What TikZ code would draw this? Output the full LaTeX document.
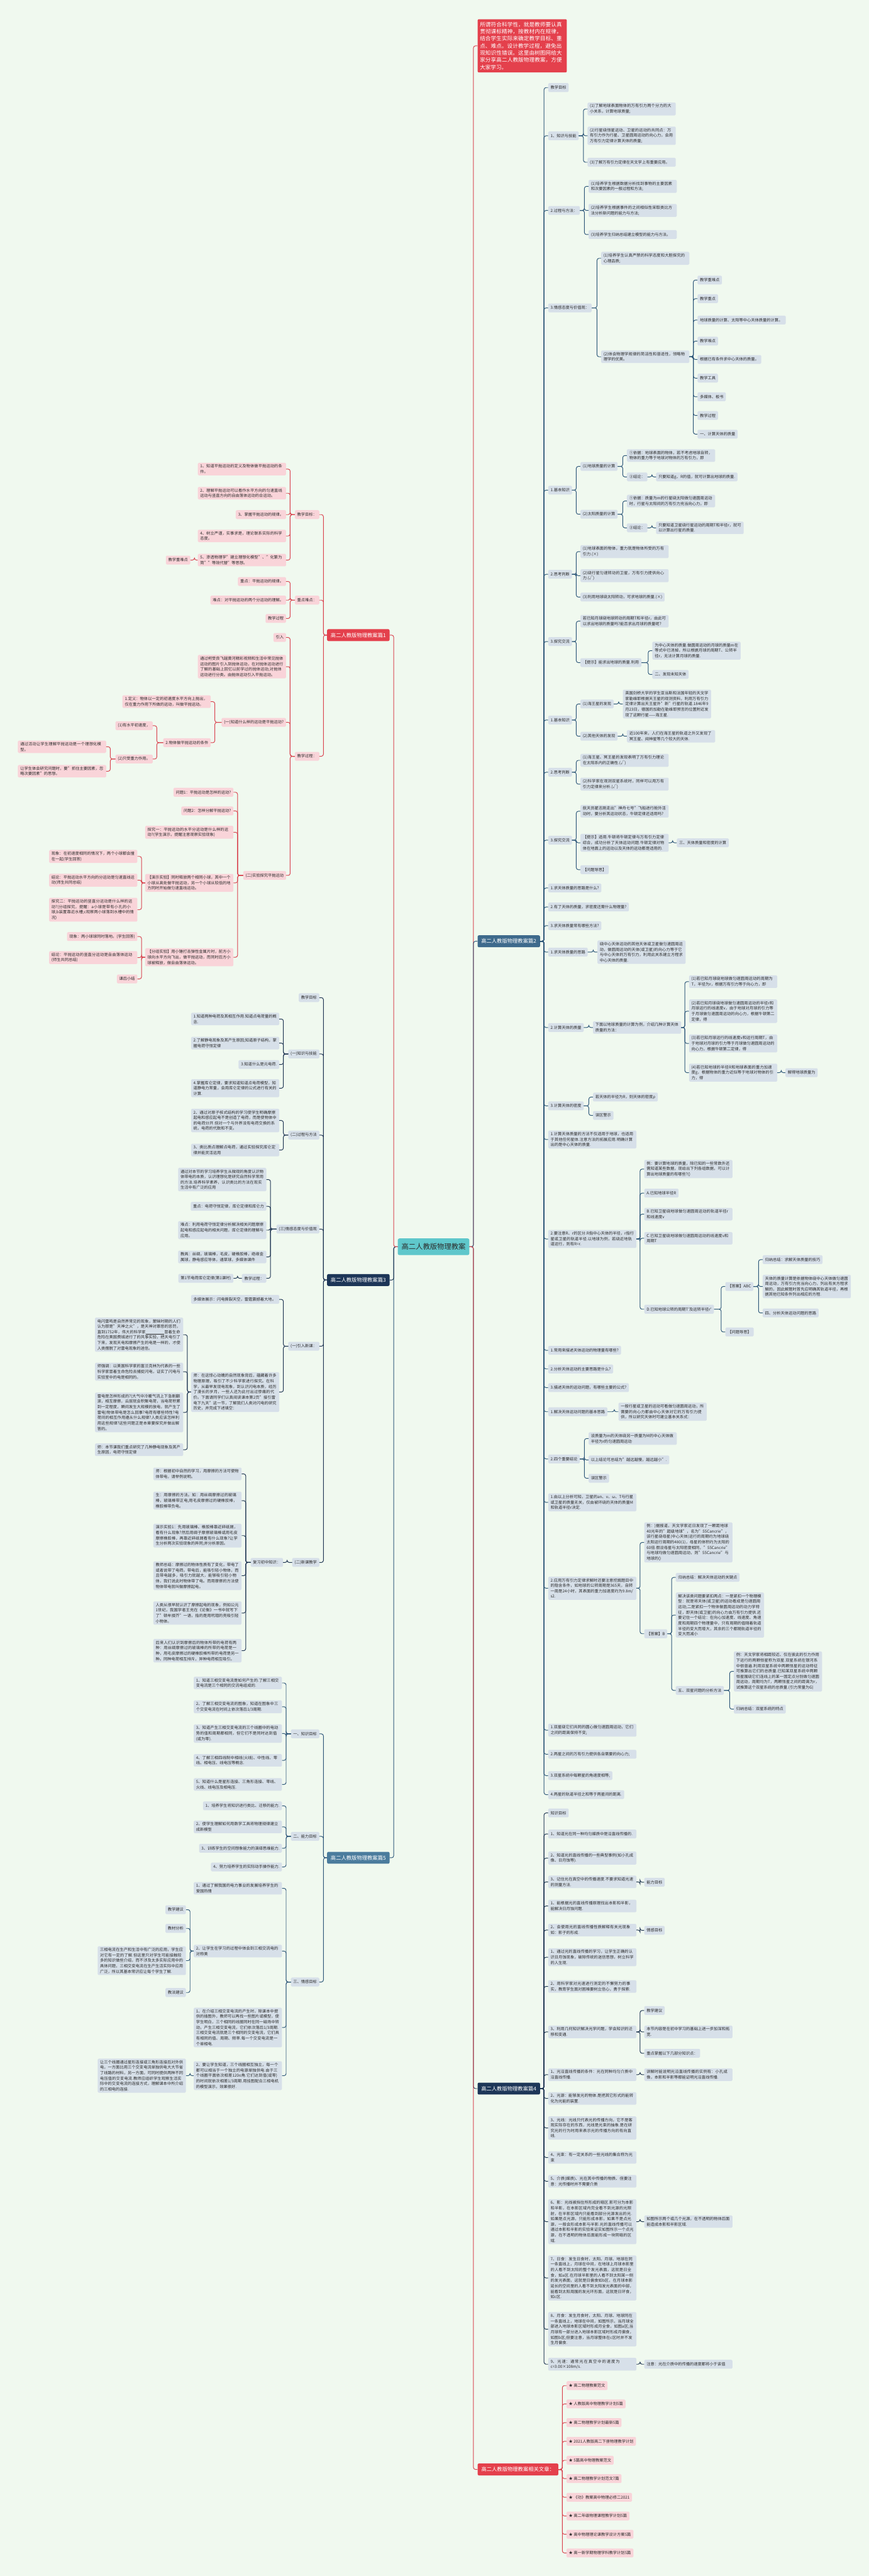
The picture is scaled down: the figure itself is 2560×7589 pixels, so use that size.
\documentclass[tikz,border=0pt]{standalone}
\usepackage{fontspec}
\setmainfont{Noto Sans CJK SC}
\XeTeXlinebreaklocale "zh"
\XeTeXlinebreakskip = 0pt plus 1pt
\definecolor{bgc}{HTML}{F0F9EF}
\definecolor{redfill}{HTML}{E4404C}
\definecolor{redline}{HTML}{D9434F}
\definecolor{pinkbox}{HTML}{F9D4D9}
\definecolor{bluebox}{HTML}{D7E0E9}
\definecolor{navy}{HTML}{1D3658}
\definecolor{navyline}{HTML}{1F3553}
\definecolor{steelA}{HTML}{3E6A8C}
\definecolor{steelB}{HTML}{4B7C9D}
\definecolor{steelline}{HTML}{2E5779}
\definecolor{tealc}{HTML}{5FC7CB}
\definecolor{txt}{HTML}{2B2B2B}
\tikzset{
  bx/.style={rounded corners=3pt, inner xsep=7pt, inner ysep=5pt, minimum height=26pt,
    font=\fontsize{11.6pt}{16pt}\selectfont, align=left, text=txt},
  bb/.style={bx, fill=bluebox},
  pb/.style={bx, fill=pinkbox},
  atR/.style={anchor=west},
  atL/.style={anchor=east},
  tw/.style={text width=#1pt},
  lone/.style={rounded corners=4pt, inner xsep=7pt, inner ysep=5pt, minimum height=35pt,
    minimum width=184pt, font=\fontsize{15.4pt}{18pt}\selectfont, text=white},
  lkred/.style={draw=redline, line width=1.8pt, rounded corners=6pt},
  lkst/.style={draw=steelline, line width=1.8pt, rounded corners=6pt},
  lknv/.style={draw=navyline, line width=1.8pt, rounded corners=6pt},
}
\newcommand{\kidsR}[3]{\foreach \k in {#3}{\draw[#1] (#2.east) -| ([xshift=-12pt]\k.west) -- (\k.west);}}
\newcommand{\kidsL}[3]{\foreach \k in {#3}{\draw[#1] (#2.west) -| ([xshift=12pt]\k.east) -- (\k.east);}}
\begin{document}
\begin{tikzpicture}[x=1pt,y=-1pt]
\fill[bgc] (0,0) rectangle (2560,7589);
\useasboundingbox (0,0) rectangle (2560,7589);

% ---------- centre ----------
\node[fill=tealc, rounded corners=5pt, minimum width=211pt, minimum height=49pt,
  font=\fontsize{21pt}{24pt}\selectfont, text=txt] (C) at (1277.5,3673) {高二人教版物理教案};

% ---------- level 1 ----------
\node[lone, fill=redfill, atR, text width=249pt, align=left, inner ysep=8pt,
  font=\fontsize{15.9pt}{21pt}\selectfont] (T) at (1407,135) {所谓符合科学性，就是教师要认真贯彻课标精神，按教材内在规律，结合学生实际来确定教学目标、重点、难点。设计教学过程，避免出现知识性错误。这里由树图网给大家分享高二人教版物理教案，方便大家学习。};
\node[lone, fill=steelA, atR] (P2) at (1407,2773) {高二人教版物理教案篇2};
\node[lone, fill=navy, atR] (P4) at (1407,6153) {高二人教版物理教案篇4};
\node[lone, fill=redfill, atR, minimum width=238pt] (R0) at (1407,7275) {高二人教版物理教案相关文章：};
\node[lone, fill=redfill, atL] (P1) at (1148,1871) {高二人教版物理教案篇1};
\node[lone, fill=navy, atL] (P3) at (1148,3771) {高二人教版物理教案篇3};
\node[lone, fill=steelB, atL] (P5) at (1148,5473) {高二人教版物理教案篇5};

% ---------- 篇2 ----------
\node[bb,atR] (a1) at (1615,258) {教学目标};
\node[bb,atR] (a2) at (1615,400) {1、知识与技能};
\node[bb,atR] (a3) at (1615,620) {2.过程与方法：};
\node[bb,atR] (a4) at (1615,907) {3.情感态度与价值观：};
\node[bb,atR] (a5) at (1615,1444) {1.基本知识};
\node[bb,atR] (a6) at (1615,1692) {2.思考判断};
\node[bb,atR] (a7) at (1615,1890) {3.探究交流};
\node[bb,atR] (a8) at (1615,2121) {1.基本知识};
\node[bb,atR] (a9) at (1615,2275) {2.思考判断};
\node[bb,atR] (a10) at (1615,2475) {3.探究交流};
\node[bb,atR] (a11) at (1615,2616) {1.求天体质量的思路是什么?};
\node[bb,atR] (a12) at (1615,2672) {2.有了天体的质量，求密度还需什么物理量?};
\node[bb,atR] (a13) at (1615,2727) {3.求天体质量常有哪些方法?};
\node[bb,atR] (a14) at (1615,2805) {1.求天体质量的思路};
\node[bb,atR] (a15) at (1615,3027) {2.计算天体的质量};
\node[bb,atR] (a16) at (1615,3258) {3.计算天体的密度};
\node[bb,atR,tw=246] (a17) at (1615,3357) {1.计算天体质量的方法不仅适用于地球，也适用于其他任何星体.注意方法的拓展应用.明确计算出的是中心天体的质量.};
\node[bb,atR,tw=246] (a18) at (1615,3650) {2.要注意R、r的区分.R指中心天体的半径，r指行星或卫星的轨道半径.以地球为例，若绕近地轨道运行，则有R=r.};
\node[bb,atR] (a19) at (1615,3978) {1.常用来描述天体运动的物理量有哪些?};
\node[bb,atR] (a20) at (1615,4033) {2.分析天体运动的主要思路是什么?};
\node[bb,atR] (a21) at (1615,4088) {3.描述天体的运动问题，有哪些主要的公式?};
\node[bb,atR] (a22) at (1615,4159) {1.解决天体运动问题的基本思路};
\node[bb,atR] (a23) at (1615,4298) {2.四个重要结论};
\node[bb,atR,tw=246] (a24) at (1615,4426) {1.由以上分析可知，卫星的an、v、ω、T与行星或卫星的质量无关，仅由被环绕的天体的质量M和轨道半径r决定.};
\node[bb,atR,tw=246] (a25) at (1615,4679) {2.应用万有引力定律求解时还要注意挖掘题目中的隐含条件，如地球的公转周期是365天，自转一周是24小时，其表面的重力加速度约为9.8m/s2.};
\node[bb,atR,tw=246] (a26) at (1615,5097) {1.双星绕它们共同的圆心做匀速圆周运动，它们之间的距离保持不变;};
\node[bb,atR,tw=246] (a27) at (1615,5168) {2.两星之间的万有引力提供各自需要的向心力;};
\node[bb,atR] (a28) at (1615,5231) {3.双星系统中每颗星的角速度相等;};
\node[bb,atR] (a29) at (1615,5287) {4.两星的轨道半径之和等于两星间的距离.};

\node[bb,atR,tw=246] (b1) at (1731,321) {(1)了解地球表面物体的万有引力两个分力的大小关系，计算地球质量;};
\node[bb,atR,tw=246] (b2) at (1731,400) {(2)行星绕恒星运动、卫星的运动的共同点：万有引力作为行星、卫星圆周运动的向心力，会用万有引力定律计算天体的质量;};
\node[bb,atR,tw=246] (b3) at (1731,478) {(3)了解万有引力定律在天文学上有重要应用。};
\node[bb,atR,tw=246] (b4) at (1734,549) {(1)培养学生根据数据分析找到事物的主要因素和次要因素的一般过程和方法;};
\node[bb,atR,tw=246] (b5) at (1734,620) {(2)培养学生根据事件的之间相似性采取类比方法分析新问题的能力与方法;};
\node[bb,atR,tw=246] (b6) at (1734,691) {(3)培养学生归纳总结建立模型的能力与方法。};
\node[bb,atR,tw=246] (b7) at (1771,761) {(1)培养学生认真严禁的科学态度和大胆探究的心理品质;};
\node[bb,atR,tw=246] (b8) at (1771,1051) {(2)体会物理学规律的简洁性和普适性，领略物理学的优美。};
\node[bb,atR] (c1) at (2055,825) {教学重难点};
\node[bb,atR] (c2) at (2055,880) {教学重点};
\node[bb,atR,tw=246] (c3) at (2055,943) {地球质量的计算、太阳等中心天体质量的计算。};
\node[bb,atR] (c4) at (2055,1005) {教学难点};
\node[bb,atR] (c5) at (2055,1059) {根据已有条件求中心天体的质量。};
\node[bb,atR] (c6) at (2055,1114) {教学工具};
\node[bb,atR] (c7) at (2055,1169) {多媒体、板书};
\node[bb,atR] (c8) at (2055,1224) {教学过程};
\node[bb,atR] (c9) at (2055,1279) {一、计算天体的质量};

\node[bb,atR] (d1) at (1710,1374) {(1)地球质量的计算};
\node[bb,atR] (d2) at (1710,1515) {(2)太阳质量的计算};
\node[bb,atR,tw=246] (e1) at (1847,1342) {①依据：地球表面的物体，若不考虑地球自转，物体的重力等于地球对物体的万有引力，即};
\node[bb,atR] (e2) at (1847,1405) {②结论：};
\node[bb,atR] (e3) at (1933,1405) {只要知道g、R的值，就可计算出地球的质量.};
\node[bb,atR,tw=246] (e4) at (1847,1476) {①依据：质量为m的行星绕太阳做匀速圆周运动时，行星与太阳间的万有引力充当向心力，即};
\node[bb,atR] (e5) at (1847,1555) {②结论：};
\node[bb,atR,tw=244] (e6) at (1933,1555) {只要知道卫星绕行星运动的周期T和半径r，就可以计算出行星的质量.};
\node[bb,atR,tw=246] (f1) at (1710,1625) {(1)地球表面的物体，重力就是物体所受的万有引力.(×)};
\node[bb,atR,tw=246] (f2) at (1710,1696) {(2)绕行星匀速转动的卫星，万有引力提供向心力.(√)};
\node[bb,atR] (f3) at (1710,1759) {(3)利用地球绕太阳转动，可求地球的质量.(×)};
\node[bb,atR,tw=246] (f4) at (1710,1830) {若已知月球绕地球转动的周期T和半径r，由此可以求出地球的质量吗?能否求出月球的质量呢?};
\node[bb,atR] (f5) at (1710,1952) {【提示】能求出地球的质量.利用};
\node[bb,atR,tw=246] (f6) at (1922,1917) {为中心天体的质量.做圆周运动的月球的质量m在等式中已消掉，所以根据月球的周期T、公转半径r，无法计算月球的质量.};
\node[bb,atR] (f7) at (1922,1987) {二、发现未知天体};
\node[bb,atR] (g1) at (1710,2074) {(1)海王星的发现};
\node[bb,atR] (g2) at (1710,2169) {(2)其他天体的发现};
\node[bb,atR,tw=246] (g3) at (1835,2074) {英国剑桥大学的学生亚当斯和法国年轻的天文学家勒维耶根据天王星的观测资料，利用万有引力定律计算出天王星外"新"行星的轨道.1846年9月23日，德国的加勒在勒维耶预言的位置附近发现了这颗行星——海王星.};
\node[bb,atR,tw=246] (g4) at (1847,2169) {近100年来，人们在海王星的轨道之外又发现了冥王星、阋神星等几个较大的天体.};
\node[bb,atR,tw=246] (g5) at (1710,2240) {(1)海王星、冥王星的发现表明了万有引力理论在太阳系内的正确性.(√)};
\node[bb,atR,tw=246] (g6) at (1710,2310) {(2)科学家在观测双星系统时，同样可以用万有引力定律来分析.(√)};
\node[bb,atR,tw=246] (g7) at (1710,2390) {航天员翟志刚走出"神舟七号"飞船进行舱外活动时，要分析其运动状态，牛顿定律还适用吗?};
\node[bb,atR,tw=246] (g8) at (1710,2483) {【提示】适用.牛顿将牛顿定律与万有引力定律综合，成功分析了天体运动问题.牛顿定律对物体在地面上的运动以及天体的运动都是适用的.};
\node[bb,atR] (g9) at (1710,2562) {【问题导思】};
\node[bb,atR] (g10) at (1994,2483) {三、天体质量和密度的计算};
\node[bb,atR,tw=246] (g11) at (1760,2805) {绕中心天体运动的其他天体或卫星做匀速圆周运动，做圆周运动的天体(或卫星)的向心力等于它与中心天体的万有引力，利用此关系建立方程求中心天体的质量.};

\node[bb,atR,tw=246] (h1) at (1747,3027) {下面以地球质量的计算为例，介绍几种计算天体质量的方法：};
\node[bb,atR,tw=246] (h2) at (2030,2892) {(1)若已知月球绕地球做匀速圆周运动的周期为T，半径为r，根据万有引力等于向心力，即};
\node[bb,atR,tw=246] (h3) at (2030,2979) {(2)若已知月球绕地球做匀速圆周运动的半径r和月球运行的线速度v，由于地球对月球的引力等于月球做匀速圆周运动的向心力，根据牛顿第二定律，得};
\node[bb,atR,tw=246] (h4) at (2030,3074) {(3)若已知月球运行的线速度v和运行周期T，由于地球对月球的引力等于月球做匀速圆周运动的向心力，根据牛顿第二定律，得};
\node[bb,atR,tw=246] (h5) at (2030,3160) {(4)若已知地球的半径R和地球表面的重力加速度g，根据物体的重力近似等于地球对物体的引力，得};
\node[bb,atR] (h6) at (2314,3160) {解得地球质量为};
\node[bb,atR] (h7) at (1747,3232) {若天体的半径为R，则天体的密度ρ};
\node[bb,atR] (h8) at (1747,3286) {误区警示};
\node[bb,atR,tw=246] (i1) at (1898,3444) {例：要计算地球的质量，除已知的一些常数外还需知道某些数据，现给出下列各组数据，可以计算出地球质量的有哪些?()};
\node[bb,atR] (i2) at (1898,3515) {A.已知地球半径R};
\node[bb,atR,tw=246] (i3) at (1898,3577) {B.已知卫星绕地球做匀速圆周运动的轨道半径r和线速度v};
\node[bb,atR,tw=246] (i4) at (1898,3648) {C.已知卫星绕地球做匀速圆周运动的线速度v和周期T};
\node[bb,atR] (i5) at (1898,3857) {D.已知地球公转的周期T′及运转半径r′};
\node[bb,atR] (i6) at (2137,3790) {【答案】ABC};
\node[bb,atR] (i7) at (2137,3924) {【问题导思】};
\node[bb,atR] (i8) at (2247,3711) {归纳总结：求解天体质量的技巧};
\node[bb,atR,tw=246] (i9) at (2247,3790) {天体的质量计算是依据物体绕中心天体做匀速圆周运动，万有引力充当向心力，列出有关方程求解的，因此解题时首先应明确其轨道半径，再根据其他已知条件列出相应的方程.};
\node[bb,atR] (i10) at (2247,3868) {四、分析天体运动问题的思路};
\node[bb,atR,tw=246] (j1) at (1822,4159) {一般行星或卫星的运动可看做匀速圆周运动，所需要的向心力都由中心天体对它的万有引力提供，所以研究天体时可建立基本关系式：};
\node[bb,atR,tw=246] (j2) at (1734,4238) {设质量为m的天体绕另一质量为M的中心天体做半径为r的匀速圆周运动};
\node[bb,atR] (j3) at (1734,4301) {以上结论可总结为"越远越慢，越远越小".};
\node[bb,atR] (j4) at (1734,4355) {误区警示};
\node[bb,atR,tw=246] (k1) at (1898,4544) {例：)据报道，天文学家近日发现了一颗距地球40光年的"超级地球"，名为"55Cancrie"，该行星绕母星(中心天体)运行的周期约为地球绕太阳运行周期的480(1)，母星的体积约为太阳的60倍.假设母星与太阳密度相同，"55Cancrie"与地球均做匀速圆周运动，则"55Cancrie"与地球的()};
\node[bb,atR] (k2) at (1898,4813) {【答案】B};
\node[bb,atR] (k3) at (1991,4647) {归纳总结：解决天体运动的关键点};
\node[bb,atR,tw=246] (k4) at (1991,4758) {解决该类问题要紧扣两点：一是紧扣一个物理模型：就是将天体(或卫星)的运动看成是匀速圆周运动;二是紧扣一个物体做圆周运动的动力学特征，即天体(或卫星)的向心力由万有引力提供.还要记住一个结论：在向心加速度、线速度、角速度和周期四个物理量中，只有周期的值随着轨道半径的变大而增大，其余的三个都随轨道半径的变大而减小};
\node[bb,atR] (k5) at (1991,4980) {五、双星问题的分析方法};
\node[bb,atR,tw=246] (k6) at (2162,4924) {例：天文学家将相距较近、仅在彼此的引力作用下运行的两颗恒星称为双星.双星系统在银河系中很普遍.利用双星系统中两颗恒星的运动特征可推算出它们的总质量.已知某双星系统中两颗恒星围绕它们连线上的某一固定点分别做匀速圆周运动，周期均为T，两颗恒星之间的距离为r，试推算这个双星系统的总质量.(引力常量为G)};
\node[bb,atR] (k7) at (2162,5035) {归纳总结：双星系统的特点};

% ---------- 篇4 ----------
\node[bb,atR] (m1) at (1615,5341) {知识目标};
\node[bb,atR,tw=246] (m2) at (1615,5403) {1、知道光在同一种均匀媒质中是沿直线传播的.};
\node[bb,atR,tw=246] (m3) at (1615,5474) {2、知道光的直线传播的一些典型事例(如小孔成像、日月蚀等).};
\node[bb,atR,tw=246] (m4) at (1615,5544) {3、记住光在真空中的传播速度.不要求知道光速的测量方法.};
\node[bb,atR] (m4c) at (1898,5545) {能力目标};
\node[bb,atR,tw=246] (m5) at (1615,5615) {1、能根据光的直线传播原理找出本影和半影，能解决日月蚀问题.};
\node[bb,atR,tw=246] (m6) at (1615,5686) {2、会使用光的直线传播性质解释有关光现象如：影子的形成.};
\node[bb,atR] (m6c) at (1898,5687) {情感目标};
\node[bb,atR,tw=246] (m7) at (1615,5766) {1、通过光的直线传播的学习，让学生正确的认识日月蚀现象，破除传统的迷信思想，树立科学的人生观.};
\node[bb,atR,tw=246] (m8) at (1615,5852) {2、用科学家对光速进行测定的不懈努力的事实，教育学生面对困难要树立信心，勇于探索.};
\node[bb,atR,tw=246] (m9) at (1615,5986) {3、利用几何知识解决光学问题，学会知识的迁移和变通.};
\node[bb,atR] (m9a) at (1898,5923) {教学建议};
\node[bb,atR,tw=246] (m9b) at (1898,5986) {本节内容是在初中学习的基础上进一步加深和拓宽.};
\node[bb,atR] (m9c) at (1898,6049) {重点掌握以下几部分知识点：};
\node[bb,atR,tw=246] (m10) at (1615,6112) {1、光沿直线传播的条件：光在同种均匀介质中沿直线传播.};
\node[bb,atR,tw=246] (m10a) at (1898,6112) {讲解时能说明光沿直线传播的实例有：小孔成像，本影和半影等都能证明光沿直线传播.};
\node[bb,atR,tw=246] (m11) at (1615,6182) {2、光源：能够发光的物体.是把其它形式的能转化为光能的装置.};
\node[bb,atR,tw=246] (m12) at (1615,6269) {3、光线：光线只代表光的传播方向，它不是客观实际存在的东西，光线是光束的抽象.是在研究光的行为时用来表示光的传播方向的有向直线.};
\node[bb,atR,tw=246] (m13) at (1615,6356) {4、光束：有一定关系的一些光线的集合称为光束};
\node[bb,atR,tw=246] (m14) at (1615,6426) {5、介质(媒质)、光在其中传播的物质、但要注意：光传播时并不需要介质};
\node[bb,atR,tw=246] (m15) at (1615,6545) {6、影：光线被挡住所形成的暗区.影可分为本影和半影，在本影区域内完全看不到光源的光照射，在半影区域内只能看到部分光源发出的光.如果是点光源，只能形成本影，如果不是点光源，一般会形成本影与半影.光的直线传播可以通过本影和半影的实验来证实如图所示一个点光源，在不透明的物体后面能形成一块阴暗的区域.};
\node[bb,atR,tw=246] (m15a) at (1898,6545) {如图所示两个或几个光源，在不透明的物体后面能造成本影和半影区域.};
\node[bb,atR,tw=246] (m16) at (1615,6711) {7、日食：发生日食时，太阳、月球、地球在同一条直线上，月球在中间，在地球上月球本影里的人看不到太阳的整个发光表面，这就是日全食，如a区.在月球半影里的人看不到太阳某一侧的发光表面，这就是日偏食如b区，在月球本影延长的空间里的人看不到太阳发光表面的中部，能看到太阳周围的发光环形面，这就是日环食，如c区.};
\node[bb,atR,tw=246] (m17) at (1615,6862) {8、月食：发生月食时，太阳、月球、地球同在一条直线上，地球在中间，如图所示，当月球全部进入地球本影区域时形成月全食，如图a区;当月球有一部分进入地球本影区域时形成月偏食，如图b区;但要注意，当月球整体在c区时并不发生月偏食.};
\node[bb,atR,tw=246] (m18) at (1615,6965) {9、光速：通常光在真空中的速度为c=3.00×108m/s.};
\node[bb,atR,tw=246] (m18a) at (1898,6965) {注意：光在介质中的传播的速度都将小于该值};

% ---------- related ----------
\node[pb,atR] (z1) at (1669,7028) {★ 高二物理教案范文};
\node[pb,atR] (z2) at (1669,7082) {★ 人教版高中物理教学计划5篇};
\node[pb,atR] (z3) at (1669,7137) {★ 高二物理教学计划最新5篇};
\node[pb,atR] (z4) at (1669,7192) {★ 2021人教版高二下册物理教学计划};
\node[pb,atR] (z5) at (1669,7248) {★ 5篇高中物理教案范文};
\node[pb,atR] (z6) at (1669,7302) {★ 高二物理教学计划范文7篇};
\node[pb,atR] (z7) at (1669,7357) {★ 《功》教案高中物理必修二2021};
\node[pb,atR] (z8) at (1669,7412) {★ 高二年级物理课程教学计划5篇};
\node[pb,atR] (z9) at (1669,7466) {★ 高中物理理论课教学设计方案5篇};
\node[pb,atR] (z10) at (1669,7521) {★ 高一新学期物理学科教学计划5篇};

% ---------- 篇1 ----------
\node[pb,atL] (n1) at (941,1516) {教学目标：};
\node[pb,atL] (n2) at (941,1768) {重点难点：};
\node[pb,atL] (n3) at (941,2228) {教学过程：};
\node[pb,atL,tw=246] (n1a) at (843,1382) {1、知道平抛运动的定义及物体做平抛运动的条件。};
\node[pb,atL,tw=246] (n1b) at (843,1453) {2、理解平抛运动可以看作水平方向的匀速直线运动与竖直方向的自由落体运动的合运动。};
\node[pb,atL] (n1c) at (843,1516) {3、掌握平抛运动的规律。};
\node[pb,atL,tw=246] (n1d) at (843,1579) {4、树立严谨，实事求是，理论联系实际的科学态度。};
\node[pb,atL,tw=246] (n1e) at (843,1650) {5、渗透物理学"建立理想化模型"、"化繁为简""等效代替"等思想。};
\node[pb,atL] (n1f) at (561,1650) {教学重难点};
\node[pb,atL] (n2a) at (843,1713) {重点：平抛运动的规律。};
\node[pb,atL] (n2b) at (843,1768) {难点：对平抛运动的两个分运动的理解。};
\node[pb,atL] (n2c) at (843,1822) {教学过程};
\node[pb,atL] (n3a) at (843,1878) {引入};
\node[pb,atL,tw=246] (n3b) at (843,1964) {通过柯受良飞越黄河精彩视频和生活中常见抛体运动的图片引入到抛体运动，在对抛体运动进行了解的基础上回忆以前学过的抛体运动;对抛体运动进行分类。由抛体运动引入平抛运动。};
\node[pb,atL] (n3c) at (843,2128) {(一)知道什么样的运动是平抛运动?};
\node[pb,atL] (n3d) at (843,2579) {(二)实验探究平抛运动};
\node[pb,atL,tw=246] (o1) at (621,2067) {1.定义：物体以一定的初速度水平方向上抛出，仅在重力作用下所做的运动，叫做平抛运动。};
\node[pb,atL] (o2) at (621,2188) {2.物体做平抛运动的条件};
\node[pb,atL] (o3) at (450,2138) {(1)有水平初速度，};
\node[pb,atL] (o4) at (450,2236) {(2)只受重力作用。};
\node[pb,atL,tw=246] (o5) at (313,2200) {通过活动让学生理解平抛运动是一个理想化模型。};
\node[pb,atL,tw=246] (o6) at (313,2272) {让学生体会研究问题时，要"抓住主要因素，忽略次要因素"的思想。};
\node[pb,atL] (p1) at (688,2334) {问题1：平抛运动是怎样的运动?};
\node[pb,atL] (p2) at (688,2389) {问题2：怎样分解平抛运动?};
\node[pb,atL,tw=246] (p3) at (688,2452) {探究一：平抛运动的水平分运动是什么样的运动?(学生演示，提醒注意观察实验现象)};
\node[pb,atL,tw=246] (p4) at (688,2601) {【演示实验】同时释放两个相同小球，其中一个小球从高处做平抛运动，另一个小球从较低的地方同时开始做匀速直线运动。};
\node[pb,atL,tw=246] (p5) at (688,2820) {【分组实验】用小锤打击弹性金属片时，前方小球向水平方向飞出，做平抛运动，而同时后方小球被释放，做自由落体运动。};
\node[pb,atL,tw=246] (p6) at (405,2523) {现象：在初速度相同的情况下，两个小球都会撞在一起(学生回答)};
\node[pb,atL,tw=246] (p7) at (405,2593) {结论：平抛运动水平方向的分运动是匀速直线运动(师生共同总结)};
\node[pb,atL,tw=246] (p8) at (405,2680) {探究二：平抛运动的竖直分运动是什么样的运动?(分组探究，提醒：a小球是带有小孔的小球;b装置靠近水槽;c观察两小球落到水槽中的情况)};
\node[pb,atL] (p9) at (405,2759) {现象：两小球球同时落地。(学生回答)};
\node[pb,atL,tw=246] (p10) at (405,2821) {结论：平抛运动的竖直分运动是自由落体运动(师生共同总结)};
\node[pb,atL] (p11) at (405,2884) {课后小结};

% ---------- 篇3 ----------
\node[bb,atL] (q1) at (941,2939) {教学目标};
\node[bb,atL] (q2) at (941,3105) {(一)知识与技能};
\node[bb,atL] (q3) at (941,3344) {(二)过程与方法};
\node[bb,atL] (q4) at (941,3621) {(三)情感态度与价值观};
\node[bb,atL] (q5) at (941,3966) {(一)引入新课：};
\node[bb,atL] (q6) at (941,4603) {(二)新课教学};
\node[bb,atL,tw=246] (q2a) at (823,3002) {1.知道两种电荷及其相互作用.知道点电荷量的概念.};
\node[bb,atL,tw=246] (q2b) at (823,3073) {2.了解静电现象及其产生原因;知道原子结构，掌握电荷守恒定律};
\node[bb,atL] (q2c) at (823,3136) {3.知道什么是元电荷.};
\node[bb,atL,tw=246] (q2d) at (823,3206) {4.掌握库仑定律，要求知道知道点电荷模型，知道静电力常量，会用库仑定律的公式进行有关的计算.};
\node[bb,atL,tw=246] (q3a) at (823,3301) {2、通过对原子核式结构的学习使学生明确摩擦起电和感应起电不是创造了电荷，而是使物体中的电荷分开.但对一个与外界没有电荷交换的系统，电荷的代数和不变。};
\node[bb,atL,tw=246] (q3b) at (823,3388) {3、类比质点理解点电荷，通过实验探究库仑定律并能灵活运用};
\node[bb,atL,tw=246] (q4a) at (785,3475) {通过对本节的学习培养学生从微观的角度认识物体带电的本质，认识理想化是研究自然科学常用的方法.培养科学素养，认识类比的方法在现实生活中有广泛的应用};
\node[bb,atL] (q4b) at (785,3554) {重点：电荷守恒定律，库仑定律和库仑力};
\node[bb,atL,tw=246] (q4c) at (785,3624) {难点：利用电荷守恒定律分析解决相关问题摩擦起电和感应起电的相关问题，库仑定律的理解与应用。};
\node[bb,atL,tw=246] (q4d) at (785,3703) {教具：丝绸，玻璃棒，毛皮，硬橡胶棒，绝缘金属球，静电感应导体，通草球，多媒体课件};
\node[bb,atL] (q4e) at (785,3766) {教学过程：};
\node[bb,atL] (q4f) at (688,3766) {第1节电荷库仑定律(第1课时)};
\node[bb,atL,tw=246] (q5a) at (823,3828) {多媒体展示：闪电撕裂天空，雷霆震撼着大地。};
\node[bb,atL,tw=246] (q5b) at (823,4101) {师：在这惊心动魄的自然现象背后，蕴藏着许多物理原理，吸引了不少科学家进行探究。在科学，从最早发现电现象，到认识闪电本质，经历了漫长的岁月，一些人还为此付出过惨痛的代价。下面请同学们认真阅读课本第2页"接引雷电下九天"这一节，了解我们人类对闪电的研究历史，并完成下述填空：};
\node[bb,atL,tw=246] (q5c) at (540,3932) {电闪雷鸣是自然界常见的现象，蒙昧时期的人们认为那是"天神之火"，是天神对罪恶的惩罚，直到1752年，伟大的科学家\rule[-1pt]{55pt}{0.6pt}冒着生命危险在美国费城进行了的风筝实验，把天电引了下来，发现天电和摩擦产生的电是一样的，才使人类摆脱了对雷电现象的迷信。};
\node[bb,atL,tw=246] (q5d) at (540,4041) {师强调：以美国科学家的富兰克林为代表的一些科学家冒着生命危险去捕捉闪电，证实了闪电与实验室中的电是相同的。};
\node[bb,atL,tw=246] (q5e) at (540,4161) {雷电是怎样形成的?(大气中冷暖气流上下急剧翻滚，相互摩擦，云层就会积聚电荷，当电荷积累到一定程度，瞬间发生大规模的放电，就产生了雷电)物体带电是怎么回事?电荷有哪些特性?电荷间的相互作用遵从什么规律?人类应该怎样利用这些规律?这些问题正是本章要探究并做出解答的。};
\node[bb,atL,tw=246] (q5f) at (540,4271) {师：本节课我们重点研究了几种静电现象及其产生原因，电荷守恒定律};
\node[bb,atL] (q6a) at (834,4603) {复习初中知识：};
\node[bb,atL,tw=246] (q6b) at (712,4342) {师：根据初中自然的学习，用摩擦的方法可使物体带电，请举例说明。};
\node[bb,atL,tw=246] (q6c) at (712,4421) {生：用摩擦的方法。如：用丝绸摩擦过的玻璃棒，玻璃棒带正电;用毛皮摩擦过的硬橡胶棒，橡胶棒带负电。};
\node[bb,atL,tw=246] (q6d) at (712,4524) {演示实验1：先用玻璃棒、橡胶棒靠近碎纸屑，看有什么现象?然后用绸子摩擦玻璃棒或用毛皮摩擦橡胶棒，再靠近碎纸屑看有什么现象?让学生分析两次实验现象的异同;并分析原因。};
\node[bb,atL,tw=246] (q6e) at (712,4642) {教师总结：摩擦过的物体性质有了变化，带电了或者说带了电荷。带电后，能吸引轻小物体，而且带电越多，吸引力就越大，能够吸引轻小物体，我们说此时物体带了电。而用摩擦的方法使物体带电就叫做摩擦起电。};
\node[bb,atL,tw=246] (q6f) at (712,4752) {人类从很早就认识了摩擦起电的现象，例如公元1世纪，我国学者王充在《论衡》一书中就写下了"顿牟掇芥"一语，指的是用玳瑁的壳吸引轻小物体。};
\node[bb,atL,tw=246] (q6g) at (712,4863) {后来人们认识到摩擦后的物体所带的电荷有两种：用丝绸摩擦过的玻璃棒的所带的电荷是一种，用毛皮摩擦过的硬橡胶棒所带的电荷是另一种。同种电荷相互排斥，异种电荷相互吸引。};

% ---------- 篇5 ----------
\node[bb,atL] (r1) at (941,5108) {一、知识目标};
\node[bb,atL] (r2) at (941,5410) {二、能力目标};
\node[bb,atL] (r3) at (941,5839) {三、情感目标};
\node[bb,atL,tw=246] (r1a) at (831,4958) {1、知道三相交变电流是如何产生的.了解三相交变电流是三个相同的交流电组成的.};
\node[bb,atL,tw=246] (r1b) at (831,5028) {2、了解三相交变电流的图象，知道在图象中三个交变电流在时间上依次落后1/3周期.};
\node[bb,atL,tw=246] (r1c) at (831,5107) {3、知道产生三相交变电流的三个线圈中的电动势的值和周期都相同，但它们不是同时达到值(或为零).};
\node[bb,atL,tw=246] (r1d) at (831,5186) {4、了解三相四线制中相线(火线)、中性线、零线、相电压、线电压等概念.};
\node[bb,atL,tw=246] (r1e) at (831,5257) {5、知道什么是星形连接、三角形连接、零线、火线、线电压及相电压.};
\node[bb,atL] (r2a) at (831,5320) {1、培养学生将知识进行类比、迁移的能力.};
\node[bb,atL,tw=246] (r2b) at (831,5382) {2、使学生理解如何用数学工具将物理规律建立成新模型};
\node[bb,atL] (r2c) at (831,5445) {3、训练学生的空间想象能力的演绎思维能力.};
\node[bb,atL] (r2d) at (831,5500) {4、努力培养学生的实际动手操作能力.};
\node[bb,atL,tw=246] (r3a) at (831,5563) {1、通过了解我国的电力事业的发展培养学生的爱国热情};
\node[bb,atL,tw=246] (r3b) at (831,5748) {2、让学生在学习的过程中体会到三相交流电的对称美};
\node[bb,atL,tw=246] (r3c) at (831,5973) {1、在介绍三相交变电流的产生时，除课本中提供的插图外，教师可以再找一些图片或模型，使学生明白，三个相同的线圈同时在同一磁场中转动，产生三相交变电流，它们依次落后1/3周期.三相交变电流就是三个相同的交变电流，它们具有相同的值、周期、频率.每一个交变电流是一个单相电.};
\node[bb,atL,tw=246] (r3d) at (831,6115) {2、要让学生知道，三个线圈相互独立，每一个都可以相当于一个独立的电源单独供电.由于三个线圈平面依次相差120o角.它们达到值(或零)的时间就依次相差1/3周期.用挂图配合三相电机的模型演示，效果很好.};
\node[bb,atL] (r3e) at (548,5626) {教学建议};
\node[bb,atL] (r3f) at (548,5681) {教材分析};
\node[bb,atL,tw=246] (r3g) at (548,5776) {三相电流在生产和生活中有广泛的应用，学生应对它有一定的了解.但这里只对学生可能接触较多的知识做些介绍，而不涉及太多实际应用中的具体问题，三相交变电流在生产生活实际中应用广泛，所以其基本常识应让每个学生了解.};
\node[bb,atL] (r3h) at (548,5870) {教法建议};
\node[bb,atL,tw=246] (r3i) at (548,6115) {让三个线圈通过星形连接或三角形连接后对外供电，一方面比用三个交变电流单独供电大大节省了线路的材料，另一方面，可同时提供两种不同电压值的交变电流.教师应组织学生观察生活实际中的交变电流的连接方式，理解课本中所介绍的三相电的连接.};

% ---------- connectors: centre to level 1 ----------
\kidsR{lkred}{C}{T}
\kidsR{lkst}{C}{P2}
\kidsR{lknv}{C}{P4}
\kidsR{lkred}{C}{R0}
\kidsL{lkst}{C}{P5}
\kidsL{lknv}{C}{P3}
\kidsL{lkred}{C}{P1}

% ---------- 篇2 connectors ----------
\kidsR{lkst}{P2}{a1,a2,a3,a4,a5,a6,a7,a8,a9,a10,a11,a12,a13,a14,a15,a16,a17,a18,a19,a20,a21,a22,a23,a24,a25,a26,a27,a28,a29}
\kidsR{lkst}{a2}{b1,b2,b3}
\kidsR{lkst}{a3}{b4,b5,b6}
\kidsR{lkst}{a4}{b7,b8}
\kidsR{lkst}{b8}{c1,c2,c3,c4,c5,c6,c7,c8,c9}
\kidsR{lkst}{a5}{d1,d2}
\kidsR{lkst}{d1}{e1,e2}
\kidsR{lkst}{e2}{e3}
\kidsR{lkst}{d2}{e4,e5}
\kidsR{lkst}{e5}{e6}
\kidsR{lkst}{a6}{f1,f2,f3}
\kidsR{lkst}{a7}{f4,f5}
\kidsR{lkst}{f5}{f6,f7}
\kidsR{lkst}{a8}{g1,g2}
\kidsR{lkst}{g1}{g3}
\kidsR{lkst}{g2}{g4}
\kidsR{lkst}{a9}{g5,g6}
\kidsR{lkst}{a10}{g7,g8,g9}
\kidsR{lkst}{g8}{g10}
\kidsR{lkst}{a14}{g11}
\kidsR{lkst}{a15}{h1}
\kidsR{lkst}{h1}{h2,h3,h4,h5}
\kidsR{lkst}{h5}{h6}
\kidsR{lkst}{a16}{h7,h8}
\kidsR{lkst}{a18}{i1,i2,i3,i4,i5}
\kidsR{lkst}{i5}{i6,i7}
\kidsR{lkst}{i6}{i8,i9,i10}
\kidsR{lkst}{a22}{j1}
\kidsR{lkst}{a23}{j2,j3,j4}
\kidsR{lkst}{a25}{k1,k2}
\kidsR{lkst}{k2}{k3,k4,k5}
\kidsR{lkst}{k5}{k6,k7}

% ---------- 篇4 connectors ----------
\kidsR{lknv}{P4}{m1,m2,m3,m4,m5,m6,m7,m8,m9,m10,m11,m12,m13,m14,m15,m16,m17,m18}
\kidsR{lknv}{m4}{m4c}
\kidsR{lknv}{m6}{m6c}
\kidsR{lknv}{m9}{m9a,m9b,m9c}
\kidsR{lknv}{m10}{m10a}
\kidsR{lknv}{m15}{m15a}
\kidsR{lknv}{m18}{m18a}

% ---------- related connectors ----------
\kidsR{lkred}{R0}{z1,z2,z3,z4,z5,z6,z7,z8,z9,z10}

% ---------- 篇1 connectors ----------
\kidsL{lkred}{P1}{n1,n2,n3}
\kidsL{lkred}{n1}{n1a,n1b,n1c,n1d,n1e}
\kidsL{lkred}{n1e}{n1f}
\kidsL{lkred}{n2}{n2a,n2b,n2c}
\kidsL{lkred}{n3}{n3a,n3b,n3c,n3d}
\kidsL{lkred}{n3c}{o1,o2}
\kidsL{lkred}{o2}{o3,o4}
\kidsL{lkred}{o4}{o5,o6}
\kidsL{lkred}{n3d}{p1,p2,p3,p4,p5}
\kidsL{lkred}{p4}{p6,p7,p8}
\kidsL{lkred}{p5}{p9,p10,p11}

% ---------- 篇3 connectors ----------
\kidsL{lknv}{P3}{q1,q2,q3,q4,q5,q6}
\kidsL{lknv}{q2}{q2a,q2b,q2c,q2d}
\kidsL{lknv}{q3}{q3a,q3b}
\kidsL{lknv}{q4}{q4a,q4b,q4c,q4d,q4e}
\kidsL{lknv}{q4e}{q4f}
\kidsL{lknv}{q5}{q5a,q5b}
\kidsL{lknv}{q5b}{q5c,q5d,q5e,q5f}
\kidsL{lknv}{q6}{q6a}
\kidsL{lknv}{q6a}{q6b,q6c,q6d,q6e,q6f,q6g}

% ---------- 篇5 connectors ----------
\kidsL{lkst}{P5}{r1,r2,r3}
\kidsL{lkst}{r1}{r1a,r1b,r1c,r1d,r1e}
\kidsL{lkst}{r2}{r2a,r2b,r2c,r2d}
\kidsL{lkst}{r3}{r3a,r3b,r3c,r3d}
\kidsL{lkst}{r3b}{r3e,r3f,r3g,r3h}
\kidsL{lkst}{r3d}{r3i}
\end{tikzpicture}
\end{document}
